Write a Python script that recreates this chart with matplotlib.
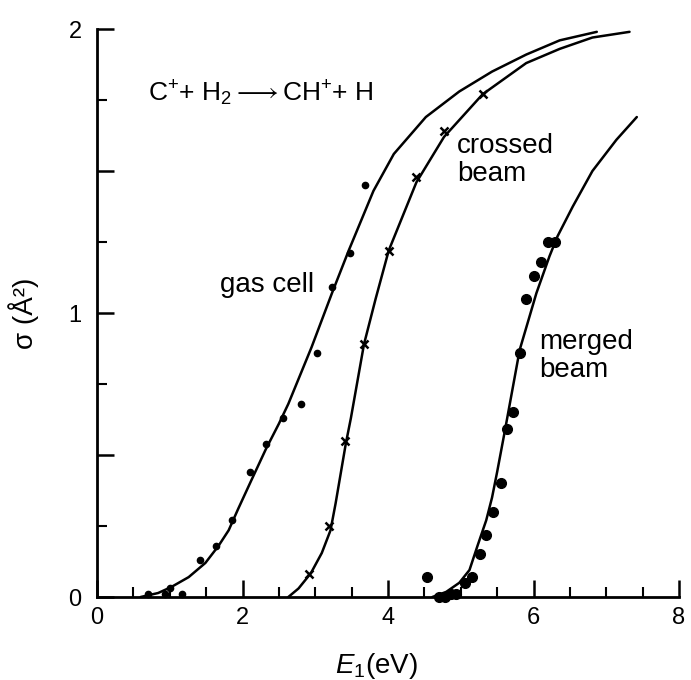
import matplotlib
matplotlib.use("Agg")
import matplotlib.pyplot as plt
from matplotlib.ticker import MultipleLocator, FixedLocator, FuncFormatter

plt.rcParams["font.family"] = ["Liberation Sans", "DejaVu Sans"]
plt.rcParams["mathtext.fontset"] = "custom"
plt.rcParams["mathtext.rm"] = "Liberation Sans"
plt.rcParams["mathtext.it"] = "Liberation Sans:italic"

# measured points (E1 in eV, sigma in A^2)
gas_x = [0.70, 0.94, 1.01, 1.17, 1.41, 1.64, 1.86, 2.10, 2.32, 2.55, 2.80, 3.02, 3.23, 3.48, 3.68]
gas_y = [0.01, 0.01, 0.03, 0.01, 0.13, 0.18, 0.27, 0.44, 0.54, 0.63, 0.68, 0.86, 1.09, 1.21, 1.45]

crossed_x = [2.91, 3.19, 3.41, 3.67, 4.01, 4.39, 4.77, 5.30]
crossed_y = [0.08, 0.25, 0.55, 0.89, 1.22, 1.48, 1.64, 1.77]

merged_x = [4.54, 4.70, 4.78, 4.86, 4.94, 5.06, 5.16, 5.26, 5.35, 5.45, 5.56, 5.63,
            5.72, 5.81, 5.90, 6.00, 6.10, 6.20, 6.30]
merged_y = [0.07, 0.00, 0.00, 0.01, 0.01, 0.05, 0.07, 0.15, 0.22, 0.30, 0.40, 0.59,
            0.65, 0.86, 1.05, 1.13, 1.18, 1.25, 1.25]

# fitted curves
gas_fit_x = [0.60, 0.84, 1.02, 1.26, 1.49, 1.67, 1.81, 1.94, 2.12, 2.32, 2.50, 2.63,
             2.95, 3.23, 3.46, 3.80, 4.08, 4.52, 4.98, 5.43, 5.90, 6.36, 6.87]
gas_fit_y = [0.00, 0.014, 0.035, 0.07, 0.12, 0.18, 0.235, 0.31, 0.41, 0.52, 0.61, 0.68,
             0.88, 1.07, 1.22, 1.43, 1.56, 1.69, 1.78, 1.85, 1.91, 1.96, 1.99]

crossed_fit_x = [2.63, 2.77, 2.94, 3.09, 3.21, 3.28, 3.35, 3.42, 3.49, 3.67, 3.83,
                 4.01, 4.39, 4.77, 5.30, 5.90, 6.36, 6.81, 7.32]
crossed_fit_y = [0.00, 0.03, 0.084, 0.155, 0.235, 0.33, 0.435, 0.54, 0.63, 0.89, 1.05,
                 1.22, 1.46, 1.62, 1.77, 1.88, 1.93, 1.97, 1.99]

merged_fit_x = [4.61, 4.80, 4.98, 5.12, 5.23, 5.35, 5.43, 5.50, 5.61, 5.81, 6.04,
                6.22, 6.33, 6.54, 6.81, 7.14, 7.42]
merged_fit_y = [0.00, 0.018, 0.05, 0.095, 0.18, 0.27, 0.35, 0.44, 0.59, 0.87, 1.07,
                1.20, 1.27, 1.375, 1.50, 1.61, 1.69]

fig = plt.figure(figsize=(6.91, 6.80), dpi=100)
ax = fig.add_axes([97 / 691, 1 - 597 / 680, 582 / 691, 568 / 680])

for fx, fy in [(gas_fit_x, gas_fit_y), (crossed_fit_x, crossed_fit_y), (merged_fit_x, merged_fit_y)]:
    ax.plot(fx, fy, color="black", lw=1.8, solid_capstyle="round", solid_joinstyle="round")

ax.plot(gas_x, gas_y, "o", color="black", ms=4.5, clip_on=False)
ax.plot(crossed_x, crossed_y, "x", color="black", ms=6, mew=1.8, clip_on=False)
ax.plot(merged_x, merged_y, "o", color="black", ms=7, clip_on=False)

ax.set_xlim(0, 8)
ax.set_ylim(0, 2)
ax.spines["top"].set_visible(False)
ax.spines["right"].set_visible(False)
ax.spines["left"].set_linewidth(2)
ax.spines["bottom"].set_linewidth(2)

ax.xaxis.set_major_locator(FixedLocator([0, 2, 4, 6, 8]))
ax.xaxis.set_minor_locator(MultipleLocator(0.5))
ax.yaxis.set_major_locator(MultipleLocator(0.5))
ax.yaxis.set_minor_locator(MultipleLocator(0.25))
ax.yaxis.set_major_formatter(FuncFormatter(lambda v, p: f"{v:.0f}" if v == int(v) else ""))
ax.tick_params(which="major", direction="in", length=12, width=1.8, labelsize=17)
ax.tick_params(which="minor", direction="in", length=7, width=1.5)
ax.tick_params(axis="x", which="major", pad=7)
ax.tick_params(axis="y", which="major", pad=11)

ax.set_xlabel(r"$E_1$(eV)", fontsize=20)
ax.xaxis.set_label_coords(0.48, -0.095)
ax.set_ylabel("σ (Å²)", fontsize=20)
ax.yaxis.set_label_coords(-0.10, 0.5)

ax.text(0.70, 1.775, r"C$^{+}$+ H$_2$$\longrightarrow$CH$^{+}$+ H", fontsize=19, va="center", ha="left")
ax.text(1.69, 1.10, "gas cell", fontsize=20, va="center", ha="left")
ax.text(4.95, 1.54, "crossed\nbeam", fontsize=20, va="center", ha="left", linespacing=1.1)
ax.text(6.08, 0.85, "merged\nbeam", fontsize=20, va="center", ha="left", linespacing=1.1)

fig.savefig("out.png", dpi=100)
